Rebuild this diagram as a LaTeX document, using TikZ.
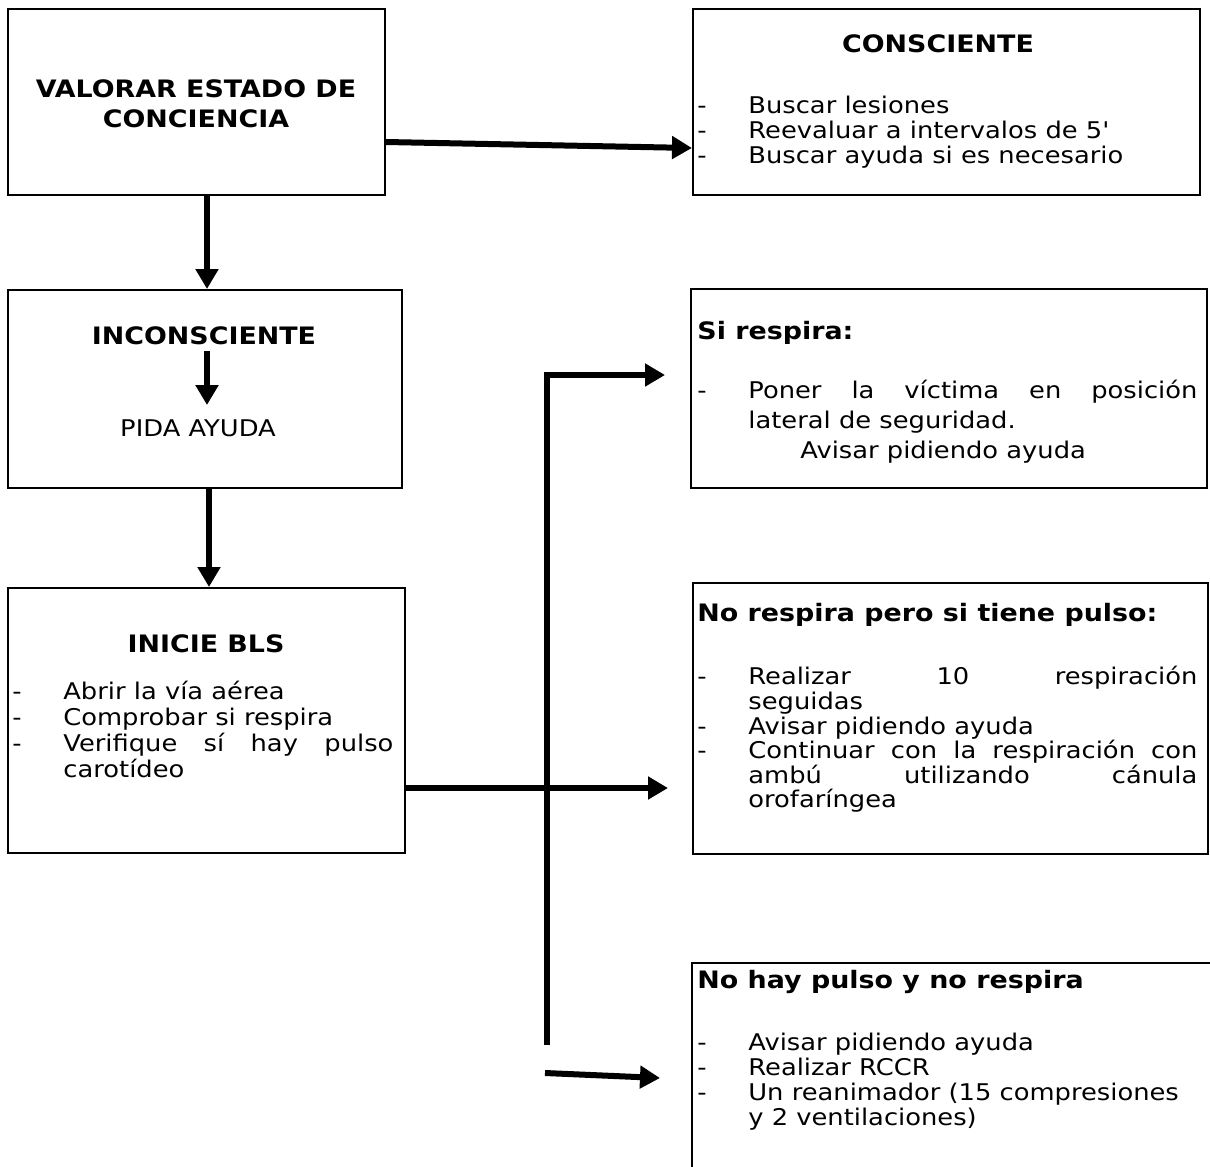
\documentclass[tikz,border=0pt]{standalone}
\usepackage{fontspec}
\setmainfont{DejaVu Sans}[FakeStretch=1.12]
\usetikzlibrary{arrows.meta,fit}

\tikzset{
  caja/.style={draw, line width=1pt, inner sep=0pt},
  flecha/.style={line width=3pt, -{Triangle[length=10pt,width=11pt]}},
  titulo/.style={font=\fontsize{12}{15}\selectfont\bfseries, inner sep=0pt, align=center},
  lista/.style={anchor=north west, inner sep=0pt, align=left},
}
\newcommand{\guion}{\makebox[25.5pt][l]{-}}
\newcommand{\sangria}{\hspace*{25.5pt}}

\begin{document}
\begin{tikzpicture}[x=0.5pt, y=-0.5pt, >=latex]

\useasboundingbox (0,0) rectangle (1210,1167);
\clip (0,0) rectangle (1210,1167);

\node[caja, fit={(8,9) (385,195)}] (valorar) {};
\node[caja, fit={(693,9) (1200,195)}] (consciente) {};
\node[caja, fit={(8,290) (402,488)}] (inconsc) {};
\node[caja, fit={(691,289) (1207,488)}] (respira) {};
\node[caja, fit={(8,588) (405,853)}] (inicie) {};
\node[caja, fit={(693,583) (1208,854)}] (pulso) {};
\node[caja, fit={(692,963) (1240,1200)}] (nohay) {};

\node[titulo] (valtit) at (196,104) {VALORAR ESTADO DE\\CONCIENCIA};
\node[titulo] (constit) at (938,44) {CONSCIENTE};
\node[titulo] (inctit) at (204,336) {INCONSCIENTE};
\node[inner sep=0pt, font=\fontsize{11.5}{13}\selectfont] (pida) at (198,428) {PIDA AYUDA};
\node[titulo] (initit) at (206,644) {INICIE BLS};
\node[titulo, anchor=west] (resptit) at (697,333) {Si respira:};
\node[titulo, anchor=west] (pulsotit) at (697,615) {No respira pero si tiene pulso:};
\node[titulo, anchor=west] (nohaytit) at (697,982) {No hay pulso y no respira};

\node[lista, font=\fontsize{11.5}{12.5}\selectfont] (conslis) at (697,96)
  {\guion Buscar lesiones\\
   \guion Reevaluar a intervalos de 5\textquotesingle\\
   \guion Buscar ayuda si es necesario};
\node[lista, font=\fontsize{11.5}{15}\selectfont] (resplis) at (697,380)
  {\guion\makebox[224.5pt][s]{Poner la víctima en posición}\\
   \sangria lateral de seguridad.\\
   \hspace*{51.5pt}Avisar pidiendo ayuda};
\node[lista, font=\fontsize{11.5}{13}\selectfont] (inilis) at (12,681)
  {\guion Abrir la vía aérea\\
   \guion Comprobar si respira\\
   \guion\makebox[165pt][s]{Verifique sí hay pulso}\\
   \sangria carotídeo};
\node[lista, font=\fontsize{11.5}{12.3}\selectfont] (pulsolis) at (697,666)
  {\guion\makebox[224.5pt][s]{Realizar \hfill 10 \hfill respiración}\\
   \sangria seguidas\\
   \guion Avisar pidiendo ayuda\\
   \guion\makebox[224.5pt][s]{Continuar con la respiración con}\\
   \sangria\makebox[224.5pt][s]{ambú \hfill utilizando \hfill cánula}\\
   \sangria orofaríngea};
\node[lista, font=\fontsize{11.5}{12.5}\selectfont] (nohaylis) at (697,1033)
  {\guion Avisar pidiendo ayuda\\
   \guion Realizar RCCR\\
   \guion Un reanimador (15 compresiones\\
   \sangria y 2 ventilaciones)};

\coordinate (abajo) at (547,1045);
\coordinate (arriba) at (547,375);
\coordinate (p1) at (665,375);
\coordinate (p2) at (668,788);
\coordinate (p3) at (545,1073);
\coordinate (p4) at (660,1078);

\draw[flecha] (valorar.east |- 0,142) -- (consciente.west |- 0,148);
\draw[flecha] (valorar.south -| 207,0) -- (inconsc.north -| 207,0);
\draw[flecha, shorten <=3pt, shorten >=7pt] (inctit.south -| 207,0) -- (pida.north -| 207,0);
\draw[flecha] (inconsc.south -| 209,0) -- (inicie.north -| 209,0);
\draw[flecha] (abajo) -- (arriba) -- (p1);
\draw[flecha] (inicie.east |- 0,788) -- (p2);
\draw[flecha] (p3) -- (p4);

\end{tikzpicture}
\end{document}
